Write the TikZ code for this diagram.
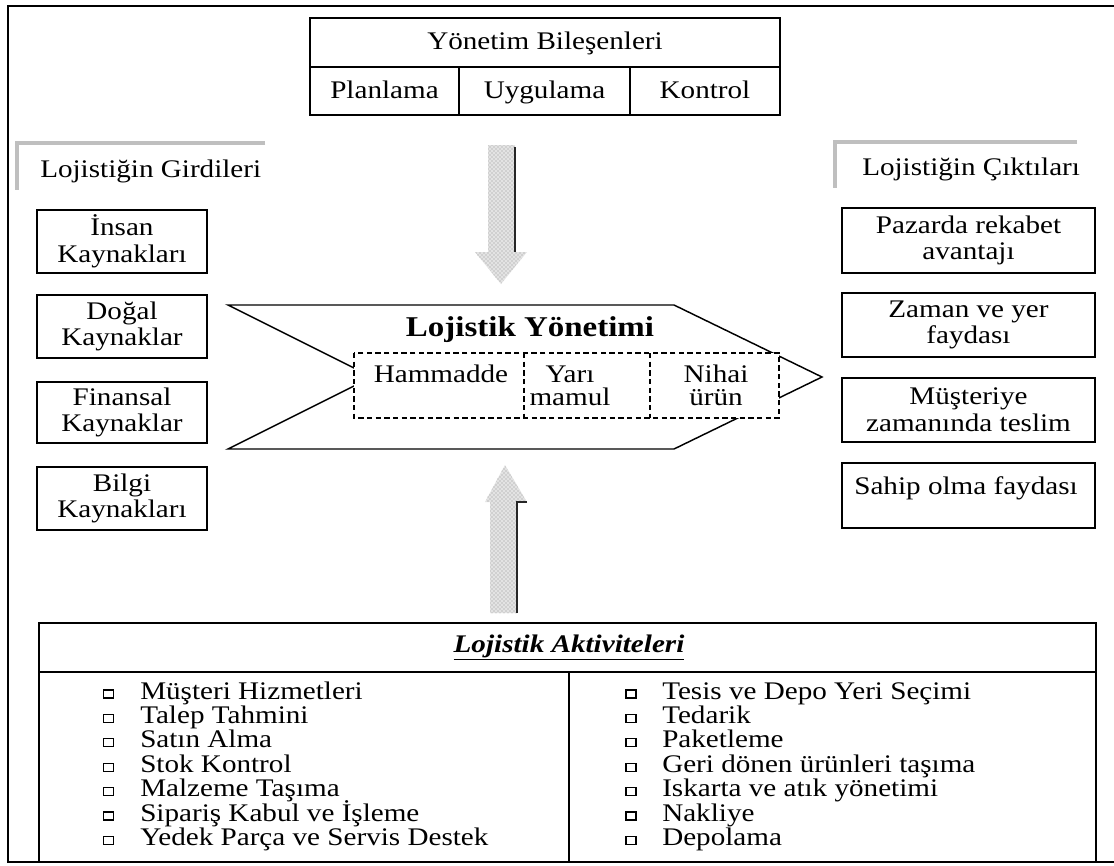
\documentclass[tikz,border=0pt]{standalone}
\usepackage{fontspec}
\setmainfont{Liberation Serif}[FakeStretch=1.15]
\usetikzlibrary{patterns}
\begin{document}
\begin{tikzpicture}[x=0.75pt,y=-0.75pt,
  txt/.style={font=\fontsize{19}{20}\selectfont, inner sep=0pt, align=center},
  frame/.style={line width=2.2pt, black},
  ln/.style={line width=1.1pt, black},
  lbox/.style={draw, line width=1.1pt, txt, minimum width=170*0.75pt},
  rbox/.style={draw, line width=1.1pt, txt, minimum width=253*0.75pt},
  brk/.style={line width=3.2pt, gray!50},
  arrfill/.style={fill=gray!22},
  arrpat/.style={pattern=crosshatch dots, pattern color=gray!85},
  arredge/.style={line width=1pt, black!85},
  dbox/.style={draw, dashed, line width=1pt, dash pattern=on 4pt off 2.5pt, fill=white},
  item/.style={font=\fontsize{19}{20}\selectfont, inner sep=0pt, anchor=base west},
  sq/.style={draw, line width=0.8pt}
]
\useasboundingbox (0,0) rectangle (1114,865);
\fill[white] (0,0) rectangle (1114,865);

% outer frame
\draw[frame] (1114,6) -- (8,6) -- (8,862) -- (1114,862);

% management components
\draw[ln] (310,18) rectangle (780,115);
\draw[ln] (310,67) -- (780,67);
\draw[ln] (459,67) -- (459,115);
\draw[ln] (630,67) -- (630,115);
\node[txt, anchor=base] (yb) at (545,49) {Yönetim Bileşenleri};
\node[txt, anchor=base] (plan) at (384.5,98) {Planlama};
\node[txt, anchor=base] (uyg) at (544.5,98) {Uygulama};
\node[txt, anchor=base] (kon) at (705,98) {Kontrol};

% headings
\draw[brk] (265,143) -- (17,143) -- (17,190);
\node[txt, anchor=base west] (gird) at (40,177) {Lojistiğin Girdileri};
\draw[brk] (1077,142) -- (835,142) -- (835,188);
\node[txt, anchor=base west] (cikt) at (862,175) {Lojistiğin Çıktıları};

% inputs
\node[lbox, minimum height=63*0.75pt] (in1) at (122,241.5) {İnsan\\Kaynakları};
\node[lbox, minimum height=63*0.75pt] (in2) at (122,326.5) {Doğal\\Kaynaklar};
\node[lbox, minimum height=61*0.75pt] (in3) at (122,412.5) {Finansal\\Kaynaklar};
\node[lbox, minimum height=63*0.75pt] (in4) at (122,498.5) {Bilgi\\Kaynakları};

% outputs
\node[rbox, minimum height=65*0.75pt] (out1) at (968.5,240.5) {Pazarda rekabet\\avantajı};
\node[rbox, minimum height=64*0.75pt] (out2) at (968.5,325) {Zaman ve yer\\faydası};
\node[rbox, minimum height=64*0.75pt] (out3) at (968.5,410) {Müşteriye\\zamanında teslim};
\node[rbox, minimum height=65*0.75pt] (out4) at (968.5,495.5) {};
\node[txt, anchor=base] (out4t) at (966,494) {Sahip olma faydası};

% down arrow
\path[arrfill] (488,145) -- (515,145) -- (515,252) -- (527,252) -- (501,284) -- (475,252) -- (488,252) -- cycle;
\path[arrpat] (488,145) -- (515,145) -- (515,252) -- (527,252) -- (501,284) -- (475,252) -- (488,252) -- cycle;
\draw[arredge] (515,147) -- (515,252);

% up arrow
\path[arrfill] (505,465) -- (527,502) -- (517,502) -- (517,613) -- (490,613) -- (490,502) -- (485,502) -- cycle;
\path[arrpat] (505,465) -- (527,502) -- (517,502) -- (517,613) -- (490,613) -- (490,502) -- (485,502) -- cycle;
\draw[arredge] (527,502) -- (517,502) -- (517,613);

% chevron
\coordinate (c1) at (228,305);
\coordinate (c2) at (674,305);
\coordinate (c3) at (822,377);
\coordinate (c4) at (674,449);
\coordinate (c5) at (228,449);
\coordinate (c6) at (372,377);
\draw[ln, fill=white] (c1) -- (c2) -- (c3) -- (c4) -- (c5) -- (c6) -- cycle;
\node[font=\fontsize{21.5}{22}\selectfont\bfseries, inner sep=0pt, anchor=base] (ly) at (530,336) {Lojistik Yönetimi};
\draw[dbox] (354,353) rectangle (779,418);
\draw[dbox] (524,353) -- (524,418);
\draw[dbox] (650,353) -- (650,418);
\node[txt, anchor=base] (ham) at (441,382) {Hammadde};
\node[txt, anchor=base] (yari) at (570,382) {Yarı};
\node[txt, anchor=base] (yari2) at (570,405) {mamul};
\node[txt, anchor=base] (nih) at (716,382) {Nihai};
\node[txt, anchor=base] (nih2) at (716,405) {ürün};

% activities
\draw[ln] (39,623) rectangle (1096,862);
\draw[ln] (39,672) -- (1096,672);
\draw[ln] (569,672) -- (569,862);
\node[txt, anchor=base] (akt) at (569,652) {\underline{\textbf{\textit{Lojistik Aktiviteleri}}}};

\foreach \t [count=\i] in {Müşteri Hizmetleri, Talep Tahmini, Satın Alma, Stok Kontrol, Malzeme Taşıma, Sipariş Kabul ve İşleme, Yedek Parça ve Servis Destek}{
  \pgfmathsetmacro{\yy}{692+24.4*(\i-1)}
  \node[item] (l\i) at (140,\yy+7) {\t};
  \draw[sq] (103.5,\yy-2) rectangle (113.5,\yy+6);
}
\foreach \t [count=\i] in {Tesis ve Depo Yeri Seçimi, Tedarik, Paketleme, Geri dönen ürünleri taşıma, Iskarta ve atık yönetimi, Nakliye, Depolama}{
  \pgfmathsetmacro{\yy}{692+24.4*(\i-1)}
  \node[item] (r\i) at (662,\yy+7) {\t};
  \draw[sq] (626,\yy-2) rectangle (636,\yy+6);
}
\end{tikzpicture}
\end{document}
